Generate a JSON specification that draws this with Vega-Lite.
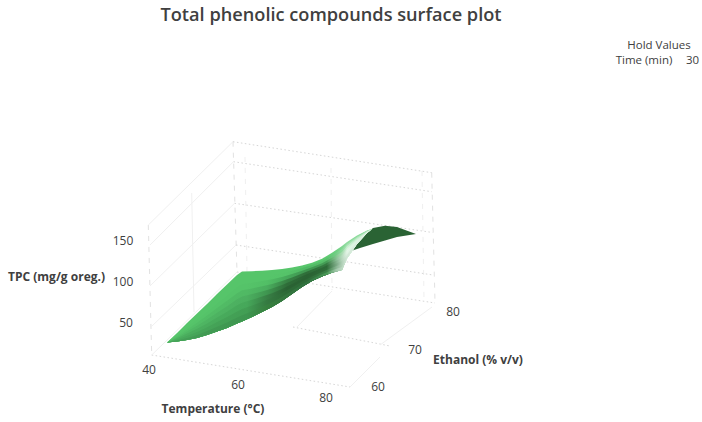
{"$schema":"https://vega.github.io/schema/vega-lite/v6.json","width":702,"height":422,"padding":0,"autosize":{"type":"fit","contains":"padding"},"background":"white","config":{"view":{"stroke":null}},
"datasets":{"surf":[
{"x":167,"e0":342.5,"e1":342.5,"e2":342.5,"e3":342.5,"e4":342.5,"e5":342.5,"e6":342.5,"e7":342.5,"e8":342.5},
{"x":177,"e0":333,"e1":334.1,"e2":335.1,"e3":336.2,"e4":337.3,"e5":338.3,"e6":339.4,"e7":340.4,"e8":341.5},
{"x":187,"e0":323,"e1":325.1,"e2":327.3,"e3":329.4,"e4":331.5,"e5":333.6,"e6":335.8,"e7":337.9,"e8":340},
{"x":197,"e0":313.5,"e1":316.6,"e2":319.6,"e3":322.7,"e4":325.8,"e5":328.8,"e6":331.9,"e7":334.9,"e8":338},
{"x":207,"e0":304,"e1":307.9,"e2":311.8,"e3":315.6,"e4":319.5,"e5":323.4,"e6":327.3,"e7":331.1,"e8":335},
{"x":217,"e0":294,"e1":298.7,"e2":303.4,"e3":308.1,"e4":312.8,"e5":317.4,"e6":322.1,"e7":326.8,"e8":331.5},
{"x":227,"e0":284.5,"e1":289.9,"e2":295.4,"e3":300.8,"e4":306.3,"e5":311.7,"e6":317.1,"e7":322.6,"e8":328},
{"x":237,"e0":275,"e1":281.1,"e2":287.1,"e3":293.2,"e4":299.3,"e5":305.3,"e6":311.4,"e7":317.4,"e8":323.5},
{"x":242,"e0":271.6,"e1":277.8,"e2":284.1,"e3":290.3,"e4":296.6,"e5":302.8,"e6":309,"e7":315.3,"e8":321.5},
{"x":252,"e0":271.2,"e1":276.9,"e2":282.7,"e3":288.4,"e4":294.1,"e5":299.8,"e6":305.6,"e7":311.3,"e8":317},
{"x":262,"e0":270.8,"e1":275.9,"e2":281.1,"e3":286.2,"e4":291.4,"e5":296.5,"e6":301.7,"e7":306.8,"e8":312},
{"x":272,"e0":270.1,"e1":274.7,"e2":279.3,"e3":283.9,"e4":288.6,"e5":293.2,"e6":297.8,"e7":302.4,"e8":307},
{"x":282,"e0":269,"e1":273,"e2":277,"e3":281,"e4":285,"e5":289,"e6":293,"e7":297,"e8":301},
{"x":292,"e0":267.5,"e1":270.8,"e2":274.1,"e3":277.4,"e4":280.8,"e5":284.1,"e6":287.4,"e7":290.7,"e8":294},
{"x":302,"e0":265.4,"e1":268.1,"e2":270.8,"e3":273.5,"e4":276.2,"e5":278.9,"e6":281.6,"e7":284.3,"e8":287},
{"x":312,"e0":262.8,"e1":265.1,"e2":267.3,"e3":269.6,"e4":271.9,"e5":274.2,"e6":276.4,"e7":278.7,"e8":281},
{"x":322,"e0":258.8,"e1":261,"e2":263.2,"e3":265.4,"e4":267.7,"e5":269.9,"e6":272.1,"e7":274.3,"e8":276.5},
{"x":332,"e0":252.8,"e1":255.3,"e2":257.8,"e3":260.3,"e4":262.8,"e5":265.2,"e6":267.7,"e7":270.2,"e8":272.7},
{"x":342,"e0":246,"e1":249,"e2":252,"e3":255,"e4":258,"e5":261,"e6":264,"e7":267,"e8":270},
{"x":347,"e0":242,"e1":244.1,"e2":246.1,"e3":248.2,"e4":250.3,"e5":252.3,"e6":254.4,"e7":256.4,"e8":258.5},
{"x":357,"e0":235.5,"e1":236.6,"e2":237.6,"e3":238.7,"e4":239.8,"e5":240.8,"e6":241.9,"e7":242.9,"e8":244},
{"x":367,"e0":230.5,"e1":230.8,"e2":231.1,"e3":231.4,"e4":231.8,"e5":232.1,"e6":232.4,"e7":232.7,"e8":233},
{"x":372,"e0":229,"e1":229,"e2":229,"e3":229,"e4":229,"e5":229,"e6":229,"e7":229,"e8":229}
]},
"encoding":{"x":{"field":"x","type":"quantitative","scale":{"domain":[0,702],"nice":false,"zero":false},"axis":null},"y":{"field":"y","type":"quantitative","scale":{"domain":[422,0],"nice":false,"zero":false},"axis":null}},
"layer":[
{"data":{"values":[
{"g":1,"x":148.3,"y":225},{"g":1,"x":151.7,"y":355},
{"g":2,"x":233,"y":141.7},{"g":2,"x":237,"y":272},
{"g":3,"x":431.7,"y":172.7},{"g":3,"x":435,"y":302}]},
"mark":{"type":"line","stroke":"#e2e2e2","strokeWidth":1,"strokeDash":[5,6]},"encoding":{"detail":{"field":"g"}}},
{"data":{"values":[
{"g":1,"x":245,"y":157},{"g":1,"x":247,"y":272},
{"g":2,"x":331,"y":168},{"g":2,"x":332,"y":290},
{"g":3,"x":422,"y":171},{"g":3,"x":424,"y":300}]},
"mark":{"type":"line","stroke":"#f0f0f0","strokeWidth":1,"strokeDash":[5,6]},"encoding":{"detail":{"field":"g"}}},
{"data":{"values":[
{"g":1,"x":233,"y":141.7},{"g":1,"x":431.7,"y":172.7},
{"g":2,"x":233.5,"y":161.7},{"g":2,"x":431.7,"y":191.7},
{"g":3,"x":234.5,"y":203.3},{"g":3,"x":432.5,"y":232.5},
{"g":4,"x":236,"y":245},{"g":4,"x":433,"y":275},
{"g":5,"x":237,"y":272},{"g":5,"x":435,"y":303},
{"g":6,"x":151.7,"y":355},{"g":6,"x":350,"y":387},
{"g":7,"x":293,"y":327},{"g":7,"x":390,"y":346}]},
"mark":{"type":"line","stroke":"#d6d6d6","strokeWidth":1,"strokeDash":[1.5,2.5]},"encoding":{"detail":{"field":"g"}}},
{"data":{"values":[
{"g":1,"x":148.3,"y":225},{"g":1,"x":233,"y":141.7},
{"g":2,"x":150,"y":245},{"g":2,"x":233.5,"y":161.7},
{"g":3,"x":150,"y":286},{"g":3,"x":234.5,"y":203.3},
{"g":4,"x":151,"y":327},{"g":4,"x":236,"y":245},
{"g":5,"x":151.7,"y":355},{"g":5,"x":237,"y":272},
{"g":6,"x":350,"y":387},{"g":6,"x":380,"y":357},
{"g":7,"x":380,"y":345},{"g":7,"x":432,"y":307},
{"g":8,"x":297,"y":327},{"g":8,"x":332,"y":291},
{"g":9,"x":191.7,"y":193},{"g":9,"x":194,"y":312}]},
"mark":{"type":"line","stroke":"#f0f0f0","strokeWidth":1},"encoding":{"detail":{"field":"g"}}},
{"data":{"values":[{"x":351,"t":251,"b":251},{"x":360,"t":239,"b":248},{"x":373,"t":228,"b":244},{"x":385,"t":225.7,"b":240.5},{"x":397,"t":227,"b":237},{"x":416,"t":234,"b":234}]},
"mark":{"type":"area","color":"#2a6334"},"encoding":{"y":{"field":"t","type":"quantitative"},"y2":{"field":"b"}}},
{"data":{"name":"surf"},"mark":{"type":"area","color":{"gradient":"linear","x1":0,"y1":0,"x2":1,"y2":0,"stops":[{"offset":0,"color":"#56c56a"},{"offset":0.39,"color":"#56c56a"},{"offset":0.488,"color":"#56c56a"},{"offset":0.585,"color":"#56c56a"},{"offset":0.683,"color":"#58c66c"},{"offset":0.78,"color":"#5cc970"},{"offset":0.829,"color":"#70d083"},{"offset":0.878,"color":"#90dc9f"},{"offset":1,"color":"#7ad68c"}]}},"encoding":{"y":{"field":"e0","type":"quantitative"},"y2":{"field":"e8"}}},
{"data":{"name":"surf"},"mark":{"type":"area","color":{"gradient":"linear","x1":0,"y1":0,"x2":1,"y2":0,"stops":[{"offset":0,"color":"#56c56a"},{"offset":0.39,"color":"#56c56a"},{"offset":0.488,"color":"#56c56a"},{"offset":0.585,"color":"#55c369"},{"offset":0.683,"color":"#4fb863"},{"offset":0.78,"color":"#58be6a"},{"offset":0.829,"color":"#78cf8a"},{"offset":0.878,"color":"#a6e3b2"},{"offset":1,"color":"#90dc9f"}]}},"encoding":{"y":{"field":"e1","type":"quantitative"},"y2":{"field":"e8"}}},
{"data":{"name":"surf"},"mark":{"type":"area","color":{"gradient":"linear","x1":0,"y1":0,"x2":1,"y2":0,"stops":[{"offset":0,"color":"#55c369"},{"offset":0.39,"color":"#55c369"},{"offset":0.488,"color":"#52bf66"},{"offset":0.585,"color":"#46a85a"},{"offset":0.683,"color":"#3f9650"},{"offset":0.78,"color":"#459c55"},{"offset":0.829,"color":"#8ac994"},{"offset":0.878,"color":"#c8edcf"},{"offset":1,"color":"#a6e3b2"}]}},"encoding":{"y":{"field":"e2","type":"quantitative"},"y2":{"field":"e8"}}},
{"data":{"name":"surf"},"mark":{"type":"area","color":{"gradient":"linear","x1":0,"y1":0,"x2":1,"y2":0,"stops":[{"offset":0,"color":"#53c067"},{"offset":0.39,"color":"#50b964"},{"offset":0.488,"color":"#4aad5e"},{"offset":0.585,"color":"#378144"},{"offset":0.683,"color":"#2f6d39"},{"offset":0.78,"color":"#357a41"},{"offset":0.829,"color":"#8fc29a"},{"offset":0.878,"color":"#dcf3e0"},{"offset":1,"color":"#b8e8c0"}]}},"encoding":{"y":{"field":"e3","type":"quantitative"},"y2":{"field":"e8"}}},
{"data":{"name":"surf"},"mark":{"type":"area","color":{"gradient":"linear","x1":0,"y1":0,"x2":1,"y2":0,"stops":[{"offset":0,"color":"#50ba64"},{"offset":0.39,"color":"#4caf60"},{"offset":0.488,"color":"#3f9650"},{"offset":0.585,"color":"#2f6d39"},{"offset":0.683,"color":"#2a6233"},{"offset":0.78,"color":"#2d6a37"},{"offset":0.829,"color":"#88b692"},{"offset":0.878,"color":"#e4f5e7"},{"offset":1,"color":"#c8edcf"}]}},"encoding":{"y":{"field":"e4","type":"quantitative"},"y2":{"field":"e8"}}},
{"data":{"name":"surf"},"mark":{"type":"area","color":{"gradient":"linear","x1":0,"y1":0,"x2":1,"y2":0,"stops":[{"offset":0,"color":"#4cb05f"},{"offset":0.39,"color":"#46a85a"},{"offset":0.488,"color":"#387f45"},{"offset":0.585,"color":"#2a6233"},{"offset":0.683,"color":"#2a6233"},{"offset":0.78,"color":"#2f6d39"},{"offset":0.829,"color":"#80ad8a"},{"offset":0.878,"color":"#e0f3e4"},{"offset":1,"color":"#d8f0dc"}]}},"encoding":{"y":{"field":"e5","type":"quantitative"},"y2":{"field":"e8"}}},
{"data":{"name":"surf"},"mark":{"type":"area","color":{"gradient":"linear","x1":0,"y1":0,"x2":1,"y2":0,"stops":[{"offset":0,"color":"#48aa5c"},{"offset":0.39,"color":"#429e54"},{"offset":0.488,"color":"#357a41"},{"offset":0.585,"color":"#2d6a37"},{"offset":0.683,"color":"#2d6a37"},{"offset":0.78,"color":"#3a8146"},{"offset":0.829,"color":"#8fb898"},{"offset":0.878,"color":"#d4e8d8"},{"offset":1,"color":"#e4f5e7"}]}},"encoding":{"y":{"field":"e6","type":"quantitative"},"y2":{"field":"e8"}}},
{"data":{"name":"surf"},"mark":{"type":"area","color":{"gradient":"linear","x1":0,"y1":0,"x2":1,"y2":0,"stops":[{"offset":0,"color":"#459f57"},{"offset":0.39,"color":"#3e9650"},{"offset":0.488,"color":"#37803f"},{"offset":0.585,"color":"#33753e"},{"offset":0.683,"color":"#317240"},{"offset":0.78,"color":"#4a9a58"},{"offset":0.829,"color":"#a8cbb0"},{"offset":0.878,"color":"#d0e6d5"},{"offset":1,"color":"#f0faf1"}]}},"encoding":{"y":{"field":"e7","type":"quantitative"},"y2":{"field":"e8"}}},
{"data":{"values":[{"x":331,"y":16,"t":"Total phenolic compounds surface plot"}]},
"mark":{"type":"text","font":"Open Sans","fontSize":18.2,"fontWeight":600,"color":"#404040","align":"center","baseline":"middle"},"encoding":{"text":{"field":"t"}}},
{"data":{"values":[{"x":56.5,"y":277,"t":"TPC (mg/g oreg.)"},{"x":213,"y":409,"t":"Temperature (°C)"},{"x":478,"y":360,"t":"Ethanol (% v/v)"}]},
"mark":{"type":"text","font":"Open Sans","fontSize":12,"fontWeight":700,"color":"#404040","align":"center","baseline":"middle"},"encoding":{"text":{"field":"t"}}},
{"data":{"values":[{"x":123,"y":241,"t":"150"},{"x":123,"y":282,"t":"100"},{"x":126,"y":323,"t":"50"},{"x":149,"y":370,"t":"40"},{"x":238,"y":385,"t":"60"},{"x":326,"y":398,"t":"80"},{"x":378,"y":387,"t":"60"},{"x":415,"y":350,"t":"70"},{"x":453,"y":312,"t":"80"}]},
"mark":{"type":"text","font":"Open Sans","fontSize":12,"color":"#404040","align":"center","baseline":"middle"},"encoding":{"text":{"field":"t"}}},
{"data":{"values":[{"x":659,"y":46,"t":"Hold Values"},{"x":644,"y":61,"t":"Time (min)"},{"x":692.5,"y":61,"t":"30"}]},
"mark":{"type":"text","font":"Open Sans","fontSize":11.5,"color":"#404040","align":"center","baseline":"middle"},"encoding":{"text":{"field":"t"}}}
]}
